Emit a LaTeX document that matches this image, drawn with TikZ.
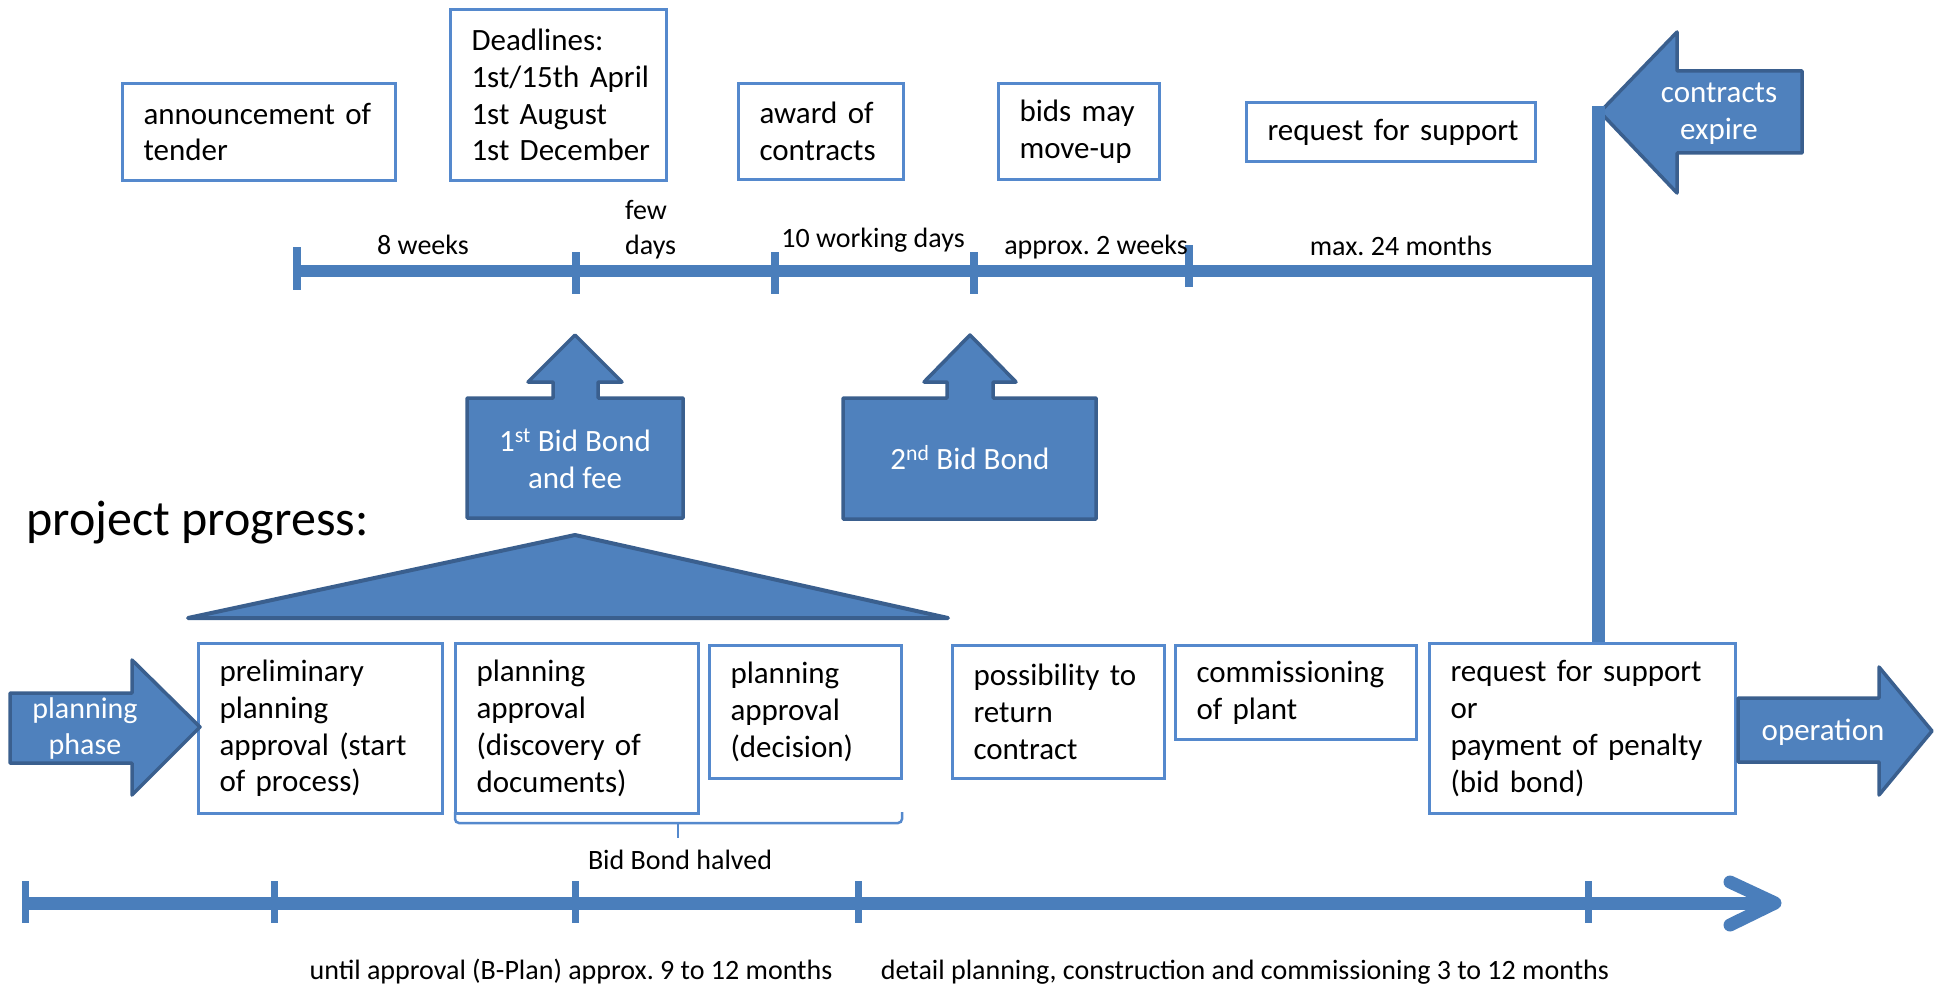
\documentclass[tikz,border=0pt]{standalone}
\usepackage{fontspec}
\setmainfont{Carlito}
\usetikzlibrary{calc}
\frenchspacing
\definecolor{bfill}{HTML}{4F81BD}
\definecolor{bdark}{HTML}{3A5F8E}
\definecolor{boxblue}{HTML}{5589CD}
\definecolor{tblue}{HTML}{4A7EBB}
\newcommand\boxfont{\fontsize{31}{36.8}\selectfont\hyphenpenalty=10000\exhyphenpenalty=10000\relax}
\newcommand\lblfont{\fontsize{28}{35}\selectfont}
\newcommand\bigfont{\fontsize{50}{60}\selectfont}
\tikzset{
  tbox/.style={draw=boxblue, line width=3pt, fill=white, anchor=north west,
    inner xsep=21pt, inner ysep=0pt, align=left, font=\boxfont},
  lbl/.style={inner sep=0pt, font=\lblfont},
  wlbl/.style={inner sep=0pt, font=\boxfont, text=white, align=center},
  bshape/.style={fill=bfill, draw=bdark, line width=3.5pt, line join=round},
  tline/.style={draw=tblue, line width=12pt},
  tickmark/.style={draw=tblue, line width=8pt},
  brace/.style={draw=boxblue, line width=2.5pt, rounded corners=4pt},
}
\begin{document}
\begin{tikzpicture}[x=1pt,y=-1pt]
\useasboundingbox (0,0) rectangle (1934,987);

% ---------- top boxes ----------
\node[tbox, minimum width=273pt, text width=231pt, minimum height=97pt] (ann) at (121,82)
  {\mbox{announcement of}\\tender};
\node[tbox, minimum width=216pt, text width=174pt, minimum height=171pt] (dead) at (449,8)
  {Deadlines:\\\mbox{1st/15th April}\\\mbox{1st August}\\\mbox{1st December}};
\node[tbox, minimum width=165pt, text width=123pt, minimum height=96pt] (award) at (737,82)
  {\mbox{award of}\\contracts};
\node[tbox, minimum width=161pt, text width=119pt, minimum height=96pt] (bids) at (997,82)
  {\mbox{bids may}\\move-up};
\node[tbox, minimum width=289pt, text width=247pt, minimum height=59pt] (reqtop) at (1245,101)
  {\mbox{request for support}};

% ---------- top timeline ----------
\coordinate (vtop) at (1598,106);
\coordinate (t0) at (297,271);
\coordinate (t1) at (576,271);
\coordinate (t2) at (775,271);
\coordinate (t3) at (974,271);
\coordinate (t4) at (1189,271);
\coordinate (tend) at (1598,271);
\draw[tline] (t0) -- (tend);
\draw[tickmark] ($(t0)+(0,-24)$) -- ($(t0)+(0,19)$);
\draw[tickmark] ($(t1)+(0,-19)$) -- ($(t1)+(0,23)$);
\draw[tickmark] ($(t2)+(0,-19)$) -- ($(t2)+(0,23)$);
\draw[tickmark] ($(t3)+(0,-19)$) -- ($(t3)+(0,23)$);
\draw[tickmark] ($(t4)+(0,-26)$) -- ($(t4)+(0,16)$);

\node[lbl] (w8) at (423,245) {8 weeks};
\node[lbl, align=left, anchor=west] (few) at (625,230) {few\\days};
\node[lbl] (w10) at (873,240) {10 working days};
\node[lbl] (w2) at (1096,247) {approx. 2 weeks};
\node[lbl] (m24) at (1401,246) {max. 24 months};

% ---------- contracts expire arrow ----------
\draw[bshape] (1600,112) -- (1677,32) -- (1677,71) -- (1802,71) -- (1802,153)
  -- (1677,153) -- (1677,193) -- cycle;
\node[wlbl] (expire) at (1719,114) {contracts\\expire};

% ---------- bid bond arrows ----------
\draw[bshape] (575,335) -- (622,382) -- (598,382) -- (598,398) -- (683,398) -- (683,518)
  -- (467,518) -- (467,398) -- (553,398) -- (553,382) -- (528,382) -- cycle;
\node[wlbl] (bond1) at (575,459) {1\textsuperscript{st} Bid Bond\\and fee};
\draw[bshape] (970,335) -- (1016,382) -- (993,382) -- (993,398) -- (1096,398) -- (1096,519)
  -- (843,519) -- (843,398) -- (947,398) -- (947,382) -- (924,382) -- cycle;
\node[wlbl] (bond2) at (970,458) {2\textsuperscript{nd} Bid Bond};

% ---------- project progress ----------
\node[inner sep=0pt, font=\bigfont, anchor=base west] (pp) at (26,535) {project progress:};
\draw[bshape, line width=4pt] (188,618) -- (575,535) -- (948,618) -- cycle;

% ---------- bottom boxes ----------
\node[tbox, minimum width=244pt, text width=202pt, minimum height=170pt] (prelim) at (197,642)
  {preliminary\\planning\\\mbox{approval (start}\\\mbox{of process)}};
\node[tbox, minimum width=243pt, text width=201pt, minimum height=170pt] (disc) at (454,642)
  {planning\\approval\\\mbox{(discovery of}\\documents)};
\node[tbox, minimum width=192pt, text width=150pt, minimum height=133pt] (deci) at (708,644)
  {planning\\approval\\(decision)};
\node[tbox, minimum width=212pt, text width=170pt, minimum height=133pt] (poss) at (951,644)
  {\mbox{possibility to}\\return\\contract};
\node[tbox, minimum width=241pt, text width=199pt, minimum height=94pt] (comm) at (1174,644)
  {commissioning\\\mbox{of plant}};
\node[tbox, minimum width=306pt, text width=264pt, minimum height=170pt] (req) at (1428,642)
  {\mbox{request for support}\\or\\\mbox{payment of penalty}\\\mbox{(bid bond)}};

% vertical connector
\draw[draw=tblue, line width=13pt] (vtop) -- (vtop |- req.north);

% ---------- side arrows ----------
\draw[bshape] (10,693) -- (132,693) -- (132,660) -- (200,727) -- (132,795) -- (132,763)
  -- (10,763) -- cycle;
\node[wlbl, font=\fontsize{30}{36}\selectfont] (plph) at (85,728) {planning\\phase};
\draw[bshape] (1738,698) -- (1879,698) -- (1879,667) -- (1932,731) -- (1879,795) -- (1879,762)
  -- (1738,762) -- cycle;
\node[wlbl] (oper) at (1823,732) {operation};

% ---------- brace ----------
\coordinate (bl) at (455,812);
\coordinate (bm) at (678,823);
\coordinate (br) at (902,812);
\draw[brace] (bl) |- (bm) -- (902,823) -- (br);
\draw[brace] (bm) -- ++(0,15);
\node[lbl] (halved) at (680,860) {Bid Bond halved};

% ---------- bottom timeline ----------
\coordinate (b0) at (25,903);
\coordinate (b1) at (274,903);
\coordinate (b2) at (575,903);
\coordinate (b3) at (858,903);
\coordinate (b4) at (1588,903);
\coordinate (btip) at (1775,903);
\draw[draw=tblue, line width=13pt] (b0) -- ($(btip)+(-6,0)$);
\draw[draw=tblue, line width=13pt, line cap=round, line join=round]
  (1730,882) -- (btip) -- (1730,925);
\foreach \p in {b0,b1,b2,b3,b4}
  \draw[draw=tblue, line width=7pt] ($(\p)+(0,-22)$) -- ($(\p)+(0,20)$);

\node[lbl] (lab1) at (571,972) {until approval (B-Plan) approx. 9 to 12 months};
\node[lbl] (lab2) at (1245,972) {detail planning, construction and commissioning 3 to 12 months};
\end{tikzpicture}
\end{document}
